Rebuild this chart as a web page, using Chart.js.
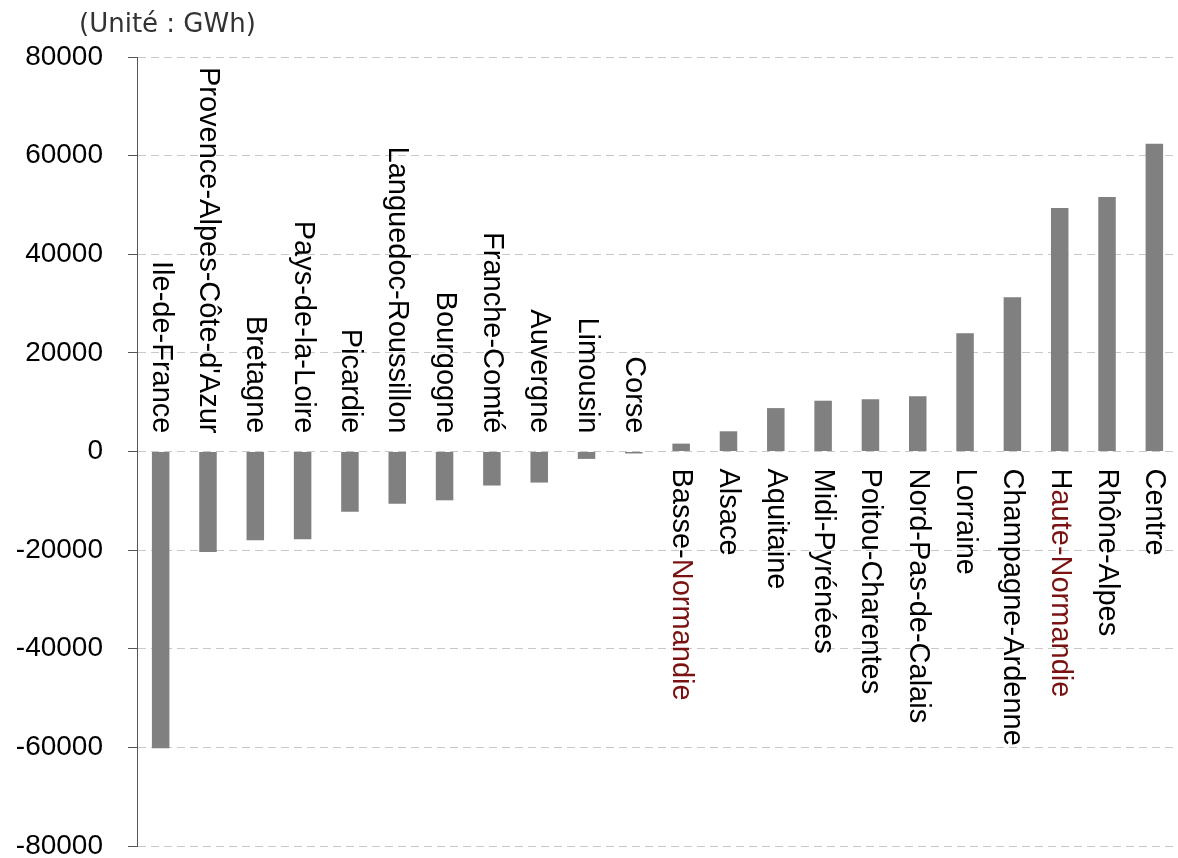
<!DOCTYPE html>
<html>
<head>
<meta charset="utf-8">
<script src="https://cdn.jsdelivr.net/npm/chart.js@4.4.1/dist/chart.umd.min.js"></script>
<style>
  body { margin: 0; background: #fff; }
  canvas { display: block; }
</style>
</head>
<body>
<canvas id="chart" width="1178" height="858"></canvas>
<script>
// regions, sorted by balance
const regions = [
  "Ile-de-France", "Provence-Alpes-Côte-d'Azur", "Bretagne", "Pays-de-la-Loire",
  "Picardie", "Languedoc-Roussillon", "Bourgogne", "Franche-Comté", "Auvergne",
  "Limousin", "Corse", "Basse-Normandie", "Alsace", "Aquitaine", "Midi-Pyrénées",
  "Poitou-Charentes", "Nord-Pas-de-Calais", "Lorraine", "Champagne-Ardenne",
  "Haute-Normandie", "Rhône-Alpes", "Centre"
];
const balance = [
  -60200, -20400, -18000, -17800, -12200, -10600, -9900, -6900, -6300,
  -1500, -400, 1600, 4100, 8800, 10300, 10600, 11200, 24000, 31300,
  49400, 51600, 62400
];
// part of a label drawn in dark red (Normandie regions)
const redFrom = { "Basse-Normandie": 6, "Haute-Normandie": 1 };
const yTicks = [-80000, -60000, -40000, -20000, 0, 20000, 40000, 60000, 80000];
const unitText = "(Unité : GWh)";

const labelFont = "29px 'Liberation Sans', Arial, sans-serif";

// draws the unit text and the rotated region names next to zero
const regionLabels = {
  id: "regionLabels",
  afterDatasetsDraw(chart) {
    const ctx = chart.ctx;
    const x = chart.scales.x;
    const y = chart.scales.y;
    const zero = y.getPixelForValue(0);

    ctx.save();
    ctx.font = "26px 'DejaVu Sans', sans-serif";
    ctx.fillStyle = "#333";
    ctx.textBaseline = "middle";
    ctx.textAlign = "left";
    ctx.fillText(unitText, 79, 25);
    ctx.restore();

    regions.forEach((name, i) => {
      const px = x.getPixelForValue(i);
      const neg = balance[i] < 0;
      const split = redFrom[name] ?? name.length;
      const parts = [
        { t: name.slice(0, split), c: "#000" },
        { t: name.slice(split), c: "#7a1212" },
      ];
      ctx.save();
      ctx.font = labelFont;
      ctx.textBaseline = "middle";
      ctx.textAlign = "left";
      const total = ctx.measureText(name).width;
      ctx.translate(px, neg ? zero - 18 - total : zero + 17);
      ctx.rotate(Math.PI / 2);
      let off = 0;
      parts.forEach((p) => {
        if (!p.t) return;
        ctx.fillStyle = p.c;
        ctx.fillText(p.t, off, 0);
        off += ctx.measureText(p.t).width;
      });
      ctx.restore();
    });
  },
};

new Chart(document.getElementById("chart"), {
  type: "bar",
  data: {
    labels: regions,
    datasets: [{
      data: balance,
      backgroundColor: "#808080",
      barPercentage: 0.37,
      categoryPercentage: 1,
    }],
  },
  options: {
    responsive: false,
    devicePixelRatio: 1,
    animation: false,
    layout: { padding: { top: 57, bottom: 12, left: 0, right: 0 } },
    plugins: { legend: { display: false }, tooltip: { enabled: false } },
    scales: {
      x: { display: false },
      y: {
        min: -80000,
        max: 80000,
        afterFit: (scale) => {
          scale.width = 137;
          // let the end labels hang over the plot edges like the original
          scale.paddingTop = 0;
          scale.paddingBottom = 0;
        },
        afterBuildTicks: (scale) => { scale.ticks = yTicks.map((v) => ({ value: v })); },
        ticks: {
          color: "#000",
          padding: 25,
          callback: (v) => String(v),
          font: { family: "'Liberation Sans', Arial, sans-serif", size: 28 },
        },
        grid: {
          color: "#c8c8c8",
          lineWidth: 1,
          tickLength: 9,
          tickColor: "#555",
          tickBorderDash: [],
        },
        border: { display: true, color: "#555", width: 1, dash: [8, 5] },
      },
    },
  },
  plugins: [regionLabels],
});
</script>
</body>
</html>
